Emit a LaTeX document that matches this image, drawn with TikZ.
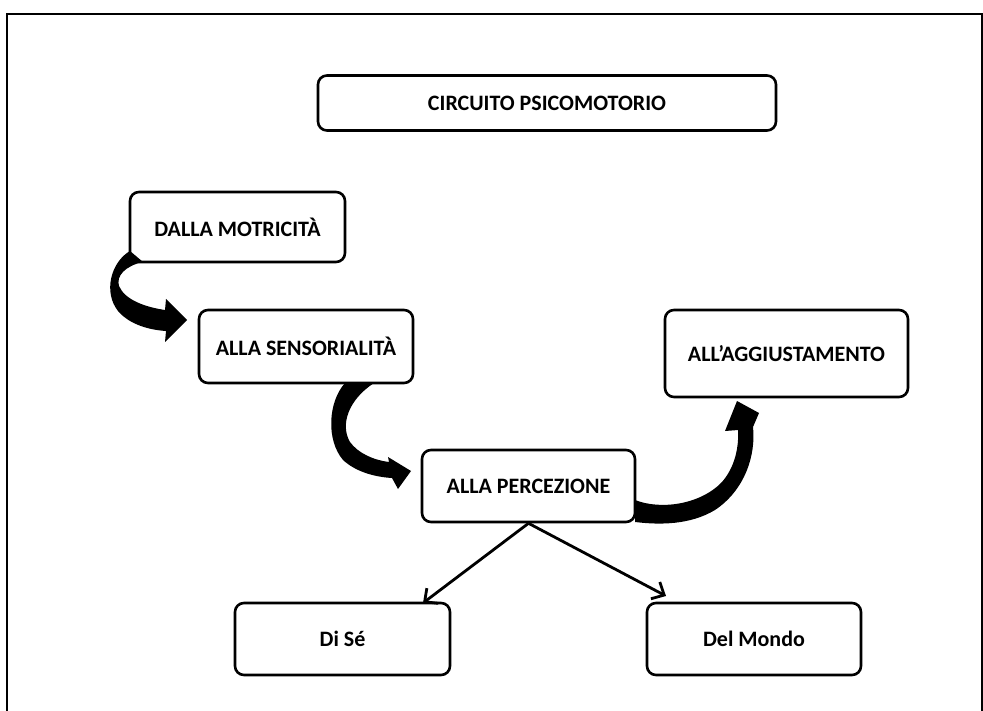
\documentclass[tikz,border=0pt]{standalone}
\usepackage{fontspec}
\setmainfont{Carlito}
\usetikzlibrary{arrows.meta}
\begin{document}
\begin{tikzpicture}[x=1pt,y=-1pt,
  box/.style={draw, line width=2.6pt, rounded corners=9pt, inner sep=0pt, align=center,
    font=\fontsize{22}{26}\selectfont\bfseries},
  blockarrow/.style={fill=black},
  thinarrow/.style={line width=2.8pt, -{Straight Barb[length=10pt,width=19pt]}},
  frameline/.style={line width=2.6pt}]
\useasboundingbox (0,0) rectangle (983,711);
\draw[frameline] (7,711) -- (7,14) -- (982,14) -- (982,711);

\node[box, minimum width=458pt, minimum height=55pt] (title) at (547,103) {CIRCUITO PSICOMOTORIO};
\node[box, minimum width=215pt, minimum height=70pt] (dm) at (237.5,227) {DALLA MOTRICITÀ};
\node[box, minimum width=214pt, minimum height=73pt] (ss) at (306,346.5) {ALLA SENSORIALITÀ};
\node[box, minimum width=243pt, minimum height=87pt] (ag) at (786.5,353.5) {ALL’AGGIUSTAMENTO};
\node[box, minimum width=213pt, minimum height=72pt] (pc) at (528.5,486) {ALLA PERCEZIONE};
\node[box, minimum width=215pt, minimum height=72pt] (ds) at (342.5,639) {Di Sé};
\node[box, minimum width=214pt, minimum height=72pt] (mo) at (754,639) {Del Mondo};

% curved block arrows
\fill[blockarrow] (130,251) .. controls (111,262) and (103,292) .. (118,311)
  .. controls (130,325) and (150,330) .. (166,331) -- (165,342) -- (187,320) -- (166,299) -- (165,310)
  .. controls (145,307) and (125,300) .. (119,286) .. controls (116,276) and (125,266) .. (143,262) -- cycle;

\fill[blockarrow] (345,383) .. controls (328,402) and (326,440) .. (343,460)
  .. controls (356,472) and (375,477) .. (392,478) -- (398,489) -- (411,471) -- (388,457) -- (389,462)
  .. controls (373,460) and (358,453) .. (350,442) .. controls (340,425) and (348,400) .. (374,383) -- cycle;

\fill[blockarrow] (635,500) .. controls (660,510) and (700,505) .. (722,482)
  .. controls (735,467) and (739,447) .. (738,430) -- (725,431) -- (737,401) -- (759,413) -- (753,427)
  .. controls (756,455) and (745,490) .. (715,510) .. controls (690,525) and (660,525) .. (635,522) -- cycle;

% straight arrows
\coordinate (t1) at (423,603);
\coordinate (t2) at (666,596);
\draw[thinarrow] (pc.south) -- (t1);
\draw[thinarrow] (pc.south) -- (t2);
\end{tikzpicture}
\end{document}
